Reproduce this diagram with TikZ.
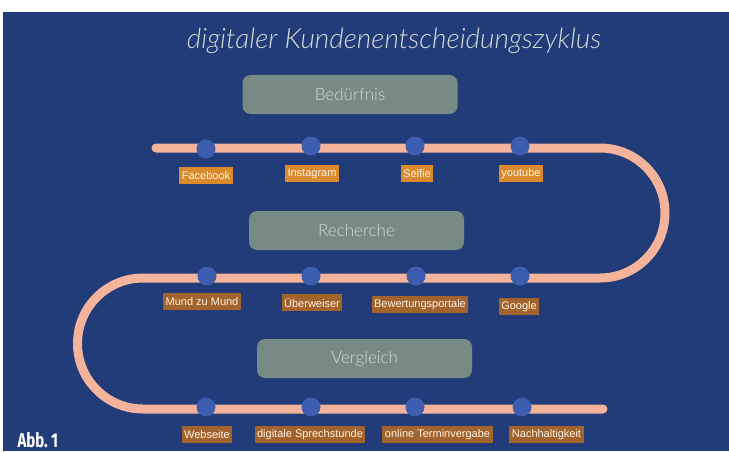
\documentclass[tikz,border=0pt]{standalone}
\usepackage{fontspec}
\setmainfont{Liberation Sans}
\newfontfamily\handfont{Lato Light Italic}
\newfontfamily\lightfont{Lato Light}
\newfontfamily\abbfont{Fira Sans}[FakeStretch=0.75]
\usepackage{tikz}
\usetikzlibrary{positioning}

\definecolor{nightblue}{HTML}{213C78}
\definecolor{salmon}{HTML}{F5B39B}
\definecolor{dotblue}{HTML}{3C5DB0}
\definecolor{sagegray}{HTML}{788A84}
\definecolor{boxtext}{HTML}{D3D9D6}
\definecolor{tagorange}{HTML}{DA8A2C}
\definecolor{tagbrown}{HTML}{A2632C}

\tikzset{
  stage/.style={fill=sagegray, rounded corners=8pt, minimum width=215pt,
    minimum height=39pt, text=boxtext, font=\lightfont\fontsize{17}{17}\selectfont},
  halt/.style={circle, fill=dotblue, minimum size=19pt, inner sep=0pt},
  tag/.style={fill=#1, text=white!90!orange, inner sep=2.5pt, minimum height=17pt,
    font=\fontsize{11}{11}\selectfont},
  track/.style={line width=9pt, salmon, line cap=round}
}

\begin{document}
\begin{tikzpicture}[x=1pt,y=1pt]
\useasboundingbox (0,0) rectangle (729,451);
\fill[nightblue] (3,0) rectangle (729,439);

% title
\node[text=boxtext, font=\handfont\fontsize{28}{28}\selectfont] (title) at (394,410)
  {digitaler Kundenentscheidungszyklus};

% the winding track
\draw[track] (156,303) -- (600,303) arc[start angle=90, end angle=-90, radius=65]
  -- (143,173) arc[start angle=90, end angle=270, radius=65.5] -- (603,42);

% stages
\node[stage] (need) at (350,356.5) {Bedürfnis};
\node[stage] (search) at (356.5,220.5) {Recherche};
\node[stage] (compare) at (364.5,92.5) {Vergleich};

% first row
\node[halt] (fb) at (206,302) {};
\node[halt] (ig) at (311,305) {};
\node[halt] (sf) at (415,305) {};
\node[halt] (yt) at (520,305) {};
\node[tag=tagorange, below=8pt of fb] (fbtag) {Facebook};
\node[tag=tagorange, below=9pt of ig, xshift=1pt] (igtag) {Instagram};
\node[tag=tagorange, below=9pt of sf, xshift=2pt] (sftag) {Selfie};
\node[tag=tagorange, below=9pt of yt, xshift=1pt] (yttag) {youtube};

% second row
\node[halt] (mm) at (207,175) {};
\node[halt] (uw) at (311,175) {};
\node[halt] (bp) at (416,175) {};
\node[halt] (gg) at (520,175) {};
\node[tag=tagbrown, below=7.5pt of mm, xshift=-5pt] (mmtag) {Mund zu Mund};
\node[tag=tagbrown, below=8.5pt of uw, xshift=1pt] (uwtag) {Überweiser};
\node[tag=tagbrown, below=10.5pt of bp, xshift=4pt] (bptag) {Bewertungsportale};
\node[tag=tagbrown, below=12pt of gg, xshift=-1pt] (ggtag) {Google};

% third row
\node[halt] (ws) at (206,44) {};
\node[halt] (ds) at (311,44) {};
\node[halt] (ot) at (415,44) {};
\node[halt] (nh) at (522,44) {};
\node[tag=tagbrown, below=9pt of ws, xshift=1pt] (wstag) {Webseite};
\node[tag=tagbrown, below=9pt of ds, xshift=-1pt] (dstag) {digitale Sprechstunde};
\node[tag=tagbrown, below=9pt of ot, xshift=22.5pt] (ottag) {online Terminvergabe};
\node[tag=tagbrown, below=9pt of nh, xshift=24.5pt] (nhtag) {Nachhaltigkeit};

\node[anchor=base west, text=white, font=\abbfont\bfseries\fontsize{20}{20}\selectfont]
  (abb) at (14,4) {Abb.\,1};
\end{tikzpicture}
\end{document}
